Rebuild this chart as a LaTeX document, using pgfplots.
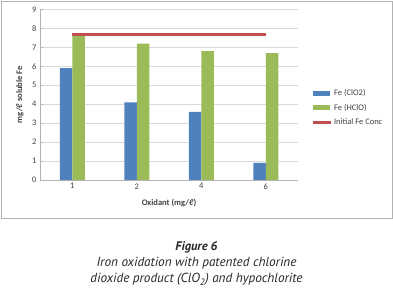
\documentclass[border=0pt]{standalone}
\usepackage{pgfplots}
\pgfplotsset{compat=1.18}
\usepackage{fontspec}
\setmainfont{Carlito}
\newfontfamily\capfont{PT Sans}
\definecolor{cblue}{HTML}{4F81BD}
\definecolor{cgreen}{HTML}{9BBB59}
\definecolor{cred}{HTML}{C0504D}
\definecolor{ctext}{HTML}{404040}
\begin{document}
\begin{tikzpicture}[x=1pt,y=1pt]
\useasboundingbox (0,0) rectangle (393,288);
\draw[gray!60, line width=0.8pt] (1,70) rectangle (392,287);
\begin{axis}[
  at={(40pt,108pt)}, anchor=south west,
  scale only axis, width=258pt, height=170.5pt,
  xmin=-0.5, xmax=3.5, ymin=0, ymax=9,
  ytick={0,1,...,9}, xtick={0,1,2,3}, xticklabels={1,2,4,6},
  ymajorgrids, grid style={gray!30, line width=0.6pt},
  axis x line*=bottom, axis y line*=left,
  axis line style={gray!60, line width=0.6pt},
  major tick length=3pt,
  ytick style={gray!60}, xtick style={draw=none},
  /pgf/number format/assume math mode=true,
  tick label style={font=\fontsize{8.5}{10}\selectfont, text=ctext},
  xlabel={\textbf{Oxidant (mg/ℓ)}},
  ylabel={\textbf{mg/ℓ soluble Fe}},
  label style={font=\fontsize{8.5}{10}\selectfont, text=ctext},
  xlabel style={at={(axis description cs:0.5,-0.135)}, anchor=center},
  ylabel style={at={(axis description cs:-0.078,0.5)}, anchor=center},
  legend style={at={(axis description cs:1.05,0.545)}, anchor=north west, draw=none, fill=none,
    font=\fontsize{8.5}{10}\selectfont, text=ctext, row sep=3pt, inner sep=0pt},
  legend cell align=left,
]
\addplot[ybar, bar width=12.5pt, bar shift=-6.25pt, fill=cblue, draw=none,
  legend image code/.code={\fill[cblue] (0pt,-2.5pt) rectangle (17pt,2.5pt);}]
  coordinates {(0,5.9) (1,4.1) (2,3.6) (3,0.9)};
\addlegendentry{Fe (ClO2)}
\addplot[ybar, bar width=12.5pt, bar shift=6.25pt, fill=cgreen, draw=none,
  legend image code/.code={\fill[cgreen] (0pt,-2.5pt) rectangle (17pt,2.5pt);}]
  coordinates {(0,7.7) (1,7.2) (2,6.8) (3,6.7)};
\addlegendentry{Fe (HClO)}
\addplot[cred, line width=3pt, mark=none,
  legend image code/.code={\draw[cred, line width=3pt] (0pt,0pt) -- (18pt,0pt);}]
  coordinates {(0,7.7) (1,7.7) (2,7.7) (3,7.7)};
\addlegendentry{Initial Fe Conc}
\end{axis}
\node[font=\capfont\fontsize{12.5}{14}\selectfont\bfseries\itshape, text=black!85] at (196.5,41) {Figure 6};
\node[font=\capfont\fontsize{13.2}{15}\selectfont\itshape, text=black!85] at (196.5,25) {Iron oxidation with patented chlorine};
\node[font=\capfont\fontsize{13.2}{15}\selectfont\itshape, text=black!85] at (196.5,8.5) {dioxide product (ClO\textsubscript{2}) and hypochlorite};
\end{tikzpicture}
\end{document}
